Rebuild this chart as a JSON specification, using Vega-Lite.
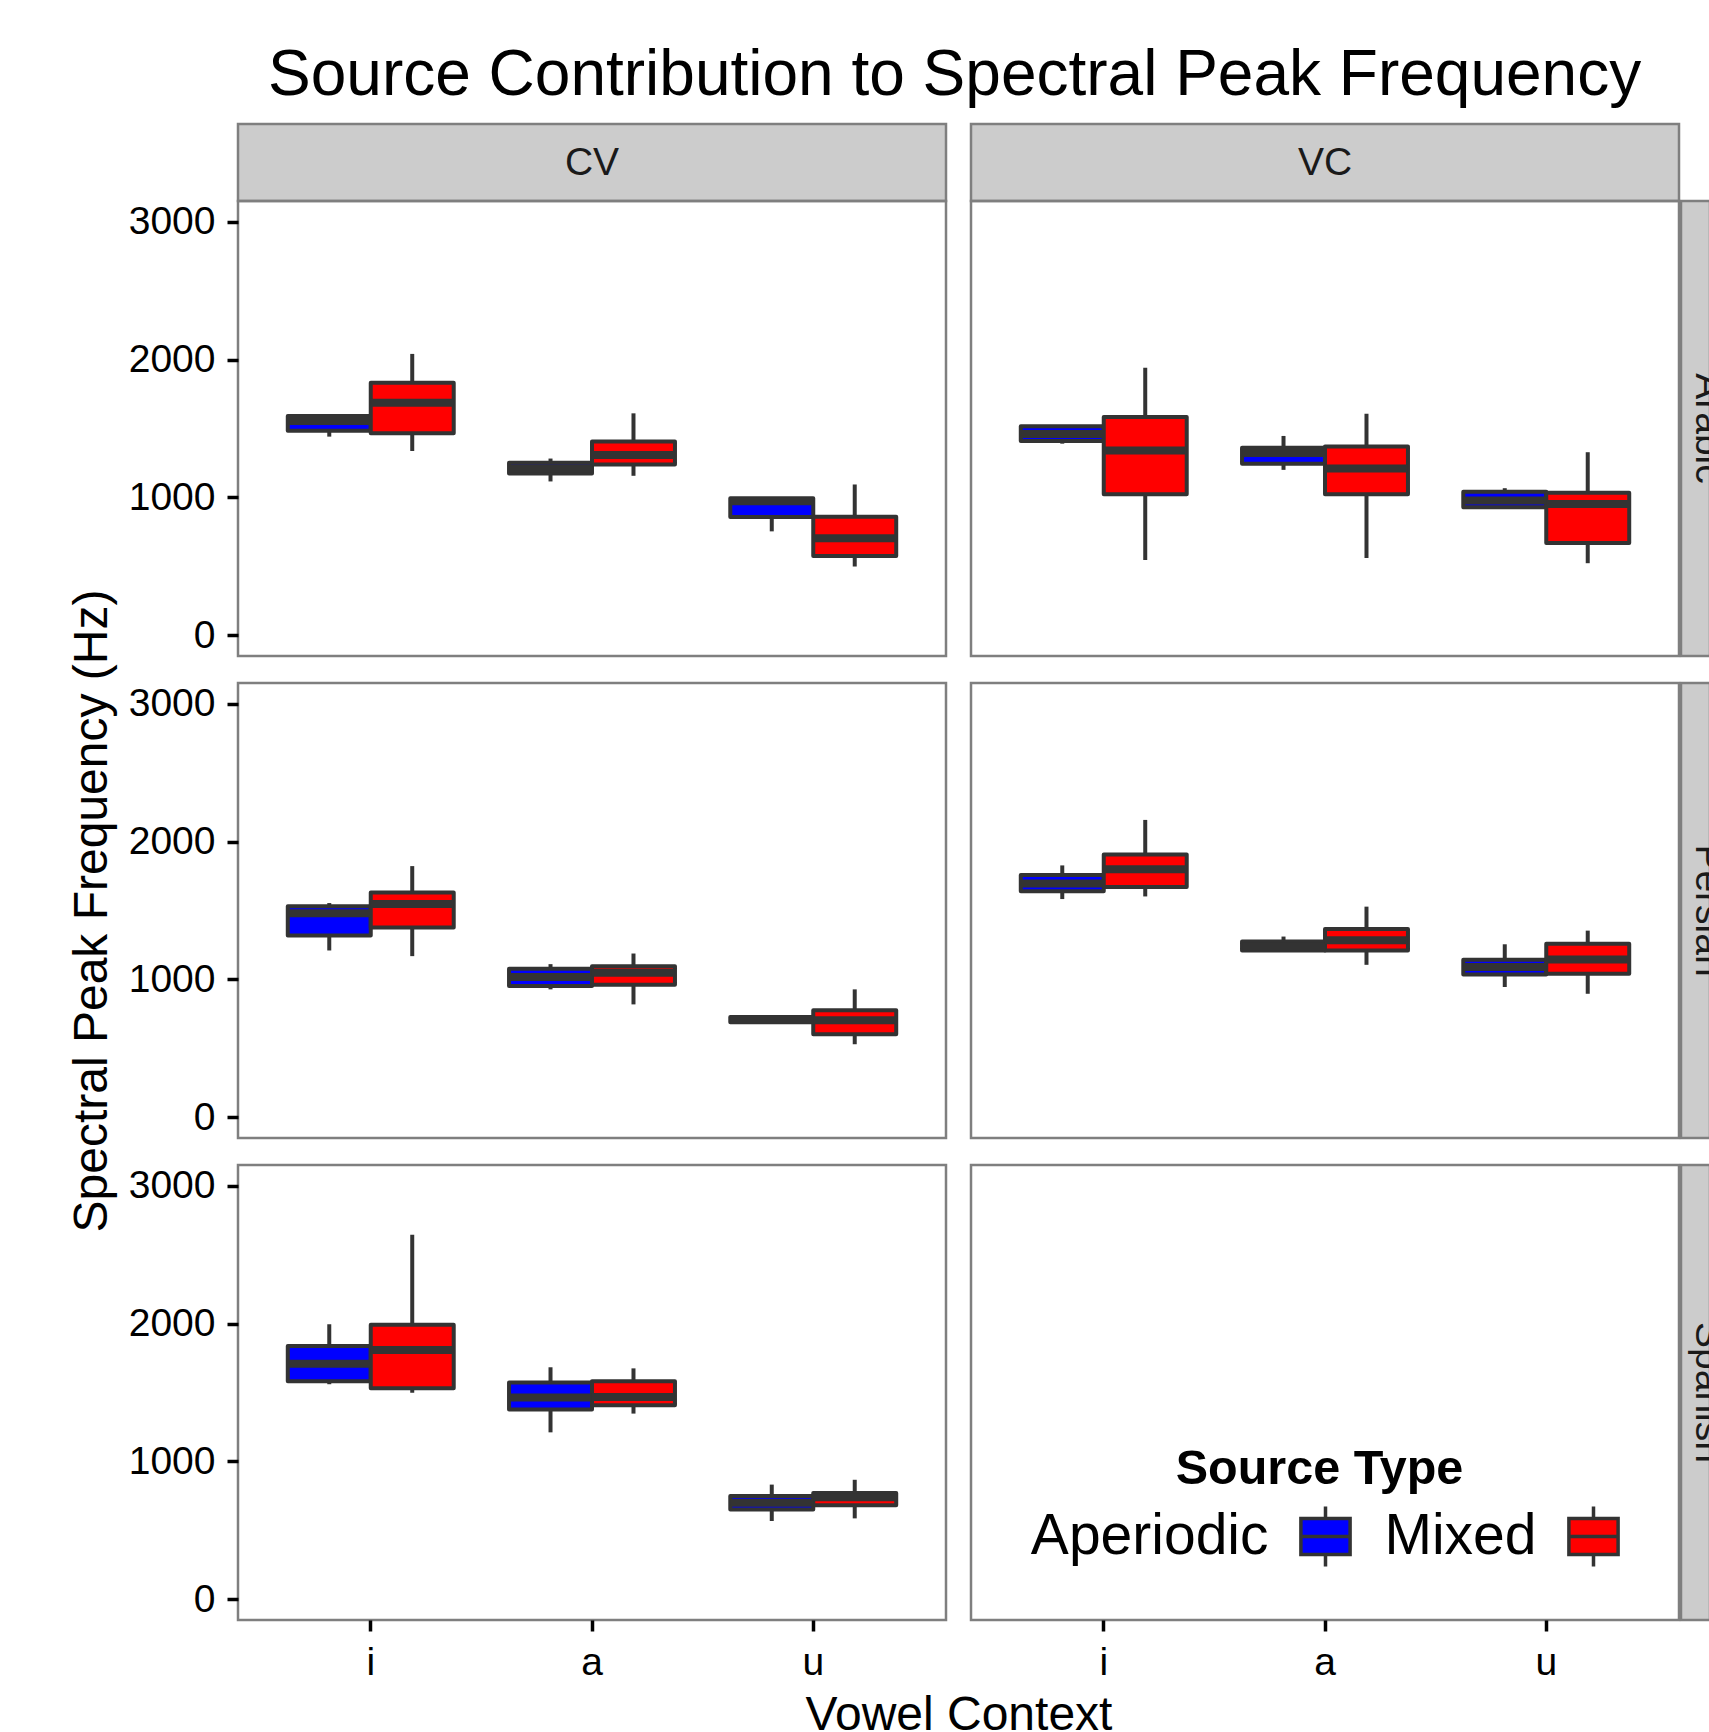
{
"$schema": "https://vega.github.io/schema/vega-lite/v6.json",
"background": "white",
"padding": {"left": 66, "top": 43, "right": 0, "bottom": 0},
"title": {"text": "Source Contribution to Spectral Peak Frequency", "anchor": "start", "frame": "group", "dx": 30, "offset": -36, "baseline": "alphabetic", "fontSize": 64, "fontWeight": "normal", "font": "Liberation Sans", "color": "#000000"},
"datasets": {
"stats": [
{"lang":"Arabic","ctx":"CV","vowel":"i","src":"Aperiodic","lo":1441,"q1":1484,"med":1554,"q3":1590,"hi":1598},
{"lang":"Arabic","ctx":"CV","vowel":"i","src":"Mixed","lo":1337,"q1":1465,"med":1687,"q3":1831,"hi":2041},
{"lang":"Arabic","ctx":"CV","vowel":"a","src":"Aperiodic","lo":1116,"q1":1173,"med":1210,"q3":1251,"hi":1282},
{"lang":"Arabic","ctx":"CV","vowel":"a","src":"Mixed","lo":1157,"q1":1239,"med":1308,"q3":1405,"hi":1610},
{"lang":"Arabic","ctx":"CV","vowel":"u","src":"Aperiodic","lo":754,"q1":858,"med":973,"q3":995,"hi":995},
{"lang":"Arabic","ctx":"CV","vowel":"u","src":"Mixed","lo":499,"q1":576,"med":704,"q3":860,"hi":1094},
{"lang":"Arabic","ctx":"VC","vowel":"i","src":"Aperiodic","lo":1390,"q1":1410,"med":1460,"q3":1516,"hi":1516},
{"lang":"Arabic","ctx":"VC","vowel":"i","src":"Mixed","lo":547,"q1":1024,"med":1340,"q3":1583,"hi":1940},
{"lang":"Arabic","ctx":"VC","vowel":"a","src":"Aperiodic","lo":1200,"q1":1245,"med":1323,"q3":1361,"hi":1446},
{"lang":"Arabic","ctx":"VC","vowel":"a","src":"Mixed","lo":561,"q1":1024,"med":1210,"q3":1369,"hi":1607},
{"lang":"Arabic","ctx":"VC","vowel":"u","src":"Aperiodic","lo":928,"q1":928,"med":978,"q3":1041,"hi":1067},
{"lang":"Arabic","ctx":"VC","vowel":"u","src":"Mixed","lo":523,"q1":670,"med":952,"q3":1034,"hi":1328},
{"lang":"Persian","ctx":"CV","vowel":"i","src":"Aperiodic","lo":1210,"q1":1318,"med":1480,"q3":1530,"hi":1554},
{"lang":"Persian","ctx":"CV","vowel":"i","src":"Mixed","lo":1169,"q1":1376,"med":1547,"q3":1631,"hi":1822},
{"lang":"Persian","ctx":"CV","vowel":"a","src":"Aperiodic","lo":928,"q1":952,"med":1017,"q3":1077,"hi":1111},
{"lang":"Persian","ctx":"CV","vowel":"a","src":"Mixed","lo":819,"q1":961,"med":1048,"q3":1096,"hi":1188},
{"lang":"Persian","ctx":"CV","vowel":"u","src":"Aperiodic","lo":689,"q1":689,"med":708,"q3":728,"hi":728},
{"lang":"Persian","ctx":"CV","vowel":"u","src":"Mixed","lo":530,"q1":602,"med":704,"q3":776,"hi":928},
{"lang":"Persian","ctx":"VC","vowel":"i","src":"Aperiodic","lo":1583,"q1":1639,"med":1696,"q3":1757,"hi":1827},
{"lang":"Persian","ctx":"VC","vowel":"i","src":"Mixed","lo":1602,"q1":1670,"med":1800,"q3":1906,"hi":2157},
{"lang":"Persian","ctx":"VC","vowel":"a","src":"Aperiodic","lo":1202,"q1":1210,"med":1240,"q3":1275,"hi":1311},
{"lang":"Persian","ctx":"VC","vowel":"a","src":"Mixed","lo":1106,"q1":1210,"med":1284,"q3":1366,"hi":1528},
{"lang":"Persian","ctx":"VC","vowel":"u","src":"Aperiodic","lo":945,"q1":1036,"med":1090,"q3":1142,"hi":1255},
{"lang":"Persian","ctx":"VC","vowel":"u","src":"Mixed","lo":896,"q1":1041,"med":1145,"q3":1258,"hi":1354},
{"lang":"Spanish","ctx":"CV","vowel":"i","src":"Aperiodic","lo":1560,"q1":1581,"med":1709,"q3":1837,"hi":1995},
{"lang":"Spanish","ctx":"CV","vowel":"i","src":"Mixed","lo":1499,"q1":1531,"med":1808,"q3":1992,"hi":2645},
{"lang":"Spanish","ctx":"CV","vowel":"a","src":"Aperiodic","lo":1211,"q1":1376,"med":1464,"q3":1573,"hi":1683},
{"lang":"Spanish","ctx":"CV","vowel":"a","src":"Mixed","lo":1347,"q1":1408,"med":1467,"q3":1581,"hi":1675},
{"lang":"Spanish","ctx":"CV","vowel":"u","src":"Aperiodic","lo":568,"q1":651,"med":700,"q3":749,"hi":832},
{"lang":"Spanish","ctx":"CV","vowel":"u","src":"Mixed","lo":587,"q1":683,"med":741,"q3":771,"hi":867}
]
},
"columns": 5,
"spacing": 0,
"bounds": "flush",
"concat": [
{"width":708,"height":77,"view":{"fill":"#cccccc","stroke":"#7f7f7f","strokeWidth":2.5},"data":{"values":[{"t":"CV"}]},"mark":{"type":"text","fontSize":39,"color":"#1a1a1a","baseline":"middle","align":"center"},"encoding":{"text":{"field":"t"}}},
{"width":25,"height":1,"data":{"values":[]},"mark":"point"},
{"width":708,"height":77,"view":{"fill":"#cccccc","stroke":"#7f7f7f","strokeWidth":2.5},"data":{"values":[{"t":"VC"}]},"mark":{"type":"text","fontSize":39,"color":"#1a1a1a","baseline":"middle","align":"center"},"encoding":{"text":{"field":"t"}}},
{"width":2,"height":1,"data":{"values":[]},"mark":"point"},
{"width":1,"height":1,"data":{"values":[]},"mark":"point"},

{"width":708,"height":455,"view":{"stroke":"#7f7f7f","strokeWidth":2.5},"data":{"name":"stats"},"transform":[{"filter":"datum.lang==='Arabic' && datum.ctx==='CV'"}],
 "encoding":{"x":{"field":"vowel","type":"nominal","scale":{"domain":["i","a","u"],"paddingInner":0.25,"paddingOuter":0.225},"axis":null},"xOffset":{"field":"src","type":"nominal","scale":{"domain":["Aperiodic","Mixed"],"paddingInner":0,"paddingOuter":0}}},
 "layer":[
  {"mark":{"type":"rule","stroke":"#333333","strokeWidth":4},"encoding":{"y":{"field":"lo","type":"quantitative","scale":{"domain":[-150,3150],"nice":false,"zero":false},"axis":{"values":[0,1000,2000,3000],"format":"d","title":null}},"y2":{"field":"hi"}}},
  {"mark":{"type":"bar","stroke":"#333333","strokeWidth":4,"strokeJoin":"round"},"encoding":{"y":{"field":"q1","type":"quantitative","scale":{"domain":[-150,3150],"nice":false,"zero":false},"axis":{"values":[0,1000,2000,3000],"format":"d","title":null}},"y2":{"field":"q3"},
   "fill":{"field":"src","type":"nominal","scale":{"domain":["Aperiodic","Mixed"],"range":["#0000ff","#ff0000"]},"legend":{"title":"Source Type","orient":"none","legendX":937.5,"legendY":1322,"direction":"horizontal","columns":2,"padding":0,"titleFont":"Liberation Sans","titleFontSize":48.5,"titleFontWeight":"bold","titleColor":"#000000","titleAnchor":"start","titleAlign":"center","titleLimit":1000,"titlePadding":10,"labelFont":"Liberation Sans","labelFontSize":57,"labelColor":"#000000","labelAlign":"right","labelOffset":-89,"symbolOffset":-26,"labelLimit":500,"symbolType":"M-0.82,-0.6H0.82V0.6H-0.82Z M0,-1V-0.6 M0,0.6V1 M-0.82,0H0.82","symbolSize":3600,"symbolStrokeColor":"#333333","symbolStrokeWidth":3.5,"symbolOpacity":1,"columnPadding":26}}}},
  {"mark":{"type":"tick","color":"#333333","opacity":1,"thickness":8,"size":83},"encoding":{"y":{"field":"med","type":"quantitative","scale":{"domain":[-150,3150],"nice":false,"zero":false},"axis":{"values":[0,1000,2000,3000],"format":"d","title":null}}}}
 ]},
{"width":25,"height":1,"data":{"values":[]},"mark":"point"},
{"width":708,"height":455,"view":{"stroke":"#7f7f7f","strokeWidth":2.5},"data":{"name":"stats"},"transform":[{"filter":"datum.lang==='Arabic' && datum.ctx==='VC'"}],
 "encoding":{"x":{"field":"vowel","type":"nominal","scale":{"domain":["i","a","u"],"paddingInner":0.25,"paddingOuter":0.225},"axis":null},"xOffset":{"field":"src","type":"nominal","scale":{"domain":["Aperiodic","Mixed"],"paddingInner":0,"paddingOuter":0}}},
 "layer":[
  {"mark":{"type":"rule","stroke":"#333333","strokeWidth":4},"encoding":{"y":{"field":"lo","type":"quantitative","scale":{"domain":[-150,3150],"nice":false,"zero":false},"axis":null},"y2":{"field":"hi"}}},
  {"mark":{"type":"bar","stroke":"#333333","strokeWidth":4,"strokeJoin":"round"},"encoding":{"y":{"field":"q1","type":"quantitative","scale":{"domain":[-150,3150],"nice":false,"zero":false},"axis":null},"y2":{"field":"q3"},
   "fill":{"field":"src","type":"nominal","scale":{"domain":["Aperiodic","Mixed"],"range":["#0000ff","#ff0000"]},"legend":{"title":"Source Type","orient":"none","legendX":937.5,"legendY":1322,"direction":"horizontal","columns":2,"padding":0,"titleFont":"Liberation Sans","titleFontSize":48.5,"titleFontWeight":"bold","titleColor":"#000000","titleAnchor":"start","titleAlign":"center","titleLimit":1000,"titlePadding":10,"labelFont":"Liberation Sans","labelFontSize":57,"labelColor":"#000000","labelAlign":"right","labelOffset":-89,"symbolOffset":-26,"labelLimit":500,"symbolType":"M-0.82,-0.6H0.82V0.6H-0.82Z M0,-1V-0.6 M0,0.6V1 M-0.82,0H0.82","symbolSize":3600,"symbolStrokeColor":"#333333","symbolStrokeWidth":3.5,"symbolOpacity":1,"columnPadding":26}}}},
  {"mark":{"type":"tick","color":"#333333","opacity":1,"thickness":8,"size":83},"encoding":{"y":{"field":"med","type":"quantitative","scale":{"domain":[-150,3150],"nice":false,"zero":false},"axis":null}}}
 ]},
{"width":2,"height":1,"data":{"values":[]},"mark":"point"},
{"width":29,"height":455,"view":{"fill":"#cccccc","stroke":"#7f7f7f","strokeWidth":2.5},"data":{"values":[{"t":"Arabic"}]},"mark":{"type":"text","fontSize":39,"color":"#1a1a1a","baseline":"middle","align":"center","angle":90,"dy":-12,"clip":true},"encoding":{"text":{"field":"t"}}},

{"width":1,"height":27,"data":{"values":[]},"mark":"point"},
{"width":1,"height":1,"data":{"values":[]},"mark":"point"},
{"width":1,"height":1,"data":{"values":[]},"mark":"point"},
{"width":1,"height":1,"data":{"values":[]},"mark":"point"},
{"width":1,"height":1,"data":{"values":[]},"mark":"point"},

{"width":708,"height":455,"view":{"stroke":"#7f7f7f","strokeWidth":2.5},"data":{"name":"stats"},"transform":[{"filter":"datum.lang==='Persian' && datum.ctx==='CV'"}],
 "encoding":{"x":{"field":"vowel","type":"nominal","scale":{"domain":["i","a","u"],"paddingInner":0.25,"paddingOuter":0.225},"axis":null},"xOffset":{"field":"src","type":"nominal","scale":{"domain":["Aperiodic","Mixed"],"paddingInner":0,"paddingOuter":0}}},
 "layer":[
  {"mark":{"type":"rule","stroke":"#333333","strokeWidth":4},"encoding":{"y":{"field":"lo","type":"quantitative","scale":{"domain":[-150,3150],"nice":false,"zero":false},"axis":{"values":[0,1000,2000,3000],"format":"d","title":"Spectral Peak Frequency (Hz)"}},"y2":{"field":"hi"}}},
  {"mark":{"type":"bar","stroke":"#333333","strokeWidth":4,"strokeJoin":"round"},"encoding":{"y":{"field":"q1","type":"quantitative","scale":{"domain":[-150,3150],"nice":false,"zero":false},"axis":{"values":[0,1000,2000,3000],"format":"d","title":"Spectral Peak Frequency (Hz)"}},"y2":{"field":"q3"},
   "fill":{"field":"src","type":"nominal","scale":{"domain":["Aperiodic","Mixed"],"range":["#0000ff","#ff0000"]},"legend":{"title":"Source Type","orient":"none","legendX":937.5,"legendY":1322,"direction":"horizontal","columns":2,"padding":0,"titleFont":"Liberation Sans","titleFontSize":48.5,"titleFontWeight":"bold","titleColor":"#000000","titleAnchor":"start","titleAlign":"center","titleLimit":1000,"titlePadding":10,"labelFont":"Liberation Sans","labelFontSize":57,"labelColor":"#000000","labelAlign":"right","labelOffset":-89,"symbolOffset":-26,"labelLimit":500,"symbolType":"M-0.82,-0.6H0.82V0.6H-0.82Z M0,-1V-0.6 M0,0.6V1 M-0.82,0H0.82","symbolSize":3600,"symbolStrokeColor":"#333333","symbolStrokeWidth":3.5,"symbolOpacity":1,"columnPadding":26}}}},
  {"mark":{"type":"tick","color":"#333333","opacity":1,"thickness":8,"size":83},"encoding":{"y":{"field":"med","type":"quantitative","scale":{"domain":[-150,3150],"nice":false,"zero":false},"axis":{"values":[0,1000,2000,3000],"format":"d","title":"Spectral Peak Frequency (Hz)"}}}}
 ]},
{"width":25,"height":1,"data":{"values":[]},"mark":"point"},
{"width":708,"height":455,"view":{"stroke":"#7f7f7f","strokeWidth":2.5},"data":{"name":"stats"},"transform":[{"filter":"datum.lang==='Persian' && datum.ctx==='VC'"}],
 "encoding":{"x":{"field":"vowel","type":"nominal","scale":{"domain":["i","a","u"],"paddingInner":0.25,"paddingOuter":0.225},"axis":null},"xOffset":{"field":"src","type":"nominal","scale":{"domain":["Aperiodic","Mixed"],"paddingInner":0,"paddingOuter":0}}},
 "layer":[
  {"mark":{"type":"rule","stroke":"#333333","strokeWidth":4},"encoding":{"y":{"field":"lo","type":"quantitative","scale":{"domain":[-150,3150],"nice":false,"zero":false},"axis":null},"y2":{"field":"hi"}}},
  {"mark":{"type":"bar","stroke":"#333333","strokeWidth":4,"strokeJoin":"round"},"encoding":{"y":{"field":"q1","type":"quantitative","scale":{"domain":[-150,3150],"nice":false,"zero":false},"axis":null},"y2":{"field":"q3"},
   "fill":{"field":"src","type":"nominal","scale":{"domain":["Aperiodic","Mixed"],"range":["#0000ff","#ff0000"]},"legend":{"title":"Source Type","orient":"none","legendX":937.5,"legendY":1322,"direction":"horizontal","columns":2,"padding":0,"titleFont":"Liberation Sans","titleFontSize":48.5,"titleFontWeight":"bold","titleColor":"#000000","titleAnchor":"start","titleAlign":"center","titleLimit":1000,"titlePadding":10,"labelFont":"Liberation Sans","labelFontSize":57,"labelColor":"#000000","labelAlign":"right","labelOffset":-89,"symbolOffset":-26,"labelLimit":500,"symbolType":"M-0.82,-0.6H0.82V0.6H-0.82Z M0,-1V-0.6 M0,0.6V1 M-0.82,0H0.82","symbolSize":3600,"symbolStrokeColor":"#333333","symbolStrokeWidth":3.5,"symbolOpacity":1,"columnPadding":26}}}},
  {"mark":{"type":"tick","color":"#333333","opacity":1,"thickness":8,"size":83},"encoding":{"y":{"field":"med","type":"quantitative","scale":{"domain":[-150,3150],"nice":false,"zero":false},"axis":null}}}
 ]},
{"width":2,"height":1,"data":{"values":[]},"mark":"point"},
{"width":29,"height":455,"view":{"fill":"#cccccc","stroke":"#7f7f7f","strokeWidth":2.5},"data":{"values":[{"t":"Persian"}]},"mark":{"type":"text","fontSize":39,"color":"#1a1a1a","baseline":"middle","align":"center","angle":90,"dy":-12,"clip":true},"encoding":{"text":{"field":"t"}}},

{"width":1,"height":27,"data":{"values":[]},"mark":"point"},
{"width":1,"height":1,"data":{"values":[]},"mark":"point"},
{"width":1,"height":1,"data":{"values":[]},"mark":"point"},
{"width":1,"height":1,"data":{"values":[]},"mark":"point"},
{"width":1,"height":1,"data":{"values":[]},"mark":"point"},

{"width":708,"height":455,"view":{"stroke":"#7f7f7f","strokeWidth":2.5},"data":{"name":"stats"},"transform":[{"filter":"datum.lang==='Spanish' && datum.ctx==='CV'"}],
 "encoding":{"x":{"field":"vowel","type":"nominal","scale":{"domain":["i","a","u"],"paddingInner":0.25,"paddingOuter":0.225},"axis":{"title":"Vowel Context","titleX":720.5,"labelAngle":0}},"xOffset":{"field":"src","type":"nominal","scale":{"domain":["Aperiodic","Mixed"],"paddingInner":0,"paddingOuter":0}}},
 "layer":[
  {"mark":{"type":"rule","stroke":"#333333","strokeWidth":4},"encoding":{"y":{"field":"lo","type":"quantitative","scale":{"domain":[-150,3150],"nice":false,"zero":false},"axis":{"values":[0,1000,2000,3000],"format":"d","title":null}},"y2":{"field":"hi"}}},
  {"mark":{"type":"bar","stroke":"#333333","strokeWidth":4,"strokeJoin":"round"},"encoding":{"y":{"field":"q1","type":"quantitative","scale":{"domain":[-150,3150],"nice":false,"zero":false},"axis":{"values":[0,1000,2000,3000],"format":"d","title":null}},"y2":{"field":"q3"},
   "fill":{"field":"src","type":"nominal","scale":{"domain":["Aperiodic","Mixed"],"range":["#0000ff","#ff0000"]},"legend":{"title":"Source Type","orient":"none","legendX":937.5,"legendY":1322,"direction":"horizontal","columns":2,"padding":0,"titleFont":"Liberation Sans","titleFontSize":48.5,"titleFontWeight":"bold","titleColor":"#000000","titleAnchor":"start","titleAlign":"center","titleLimit":1000,"titlePadding":10,"labelFont":"Liberation Sans","labelFontSize":57,"labelColor":"#000000","labelAlign":"right","labelOffset":-89,"symbolOffset":-26,"labelLimit":500,"symbolType":"M-0.82,-0.6H0.82V0.6H-0.82Z M0,-1V-0.6 M0,0.6V1 M-0.82,0H0.82","symbolSize":3600,"symbolStrokeColor":"#333333","symbolStrokeWidth":3.5,"symbolOpacity":1,"columnPadding":26}}}},
  {"mark":{"type":"tick","color":"#333333","opacity":1,"thickness":8,"size":83},"encoding":{"y":{"field":"med","type":"quantitative","scale":{"domain":[-150,3150],"nice":false,"zero":false},"axis":{"values":[0,1000,2000,3000],"format":"d","title":null}}}}
 ]},
{"width":25,"height":1,"data":{"values":[]},"mark":"point"},
{"width":708,"height":455,"view":{"stroke":"#7f7f7f","strokeWidth":2.5},"data":{"name":"stats"},"transform":[{"filter":"datum.lang==='Spanish' && datum.ctx==='VC'"}],
 "encoding":{"x":{"field":"vowel","type":"nominal","scale":{"domain":["i","a","u"],"paddingInner":0.25,"paddingOuter":0.225},"axis":{"title":null,"labelAngle":0}},"xOffset":{"field":"src","type":"nominal","scale":{"domain":["Aperiodic","Mixed"],"paddingInner":0,"paddingOuter":0}}},
 "layer":[
  {"mark":{"type":"rule","stroke":"#333333","strokeWidth":4},"encoding":{"y":{"field":"lo","type":"quantitative","scale":{"domain":[-150,3150],"nice":false,"zero":false},"axis":null},"y2":{"field":"hi"}}},
  {"mark":{"type":"bar","stroke":"#333333","strokeWidth":4,"strokeJoin":"round"},"encoding":{"y":{"field":"q1","type":"quantitative","scale":{"domain":[-150,3150],"nice":false,"zero":false},"axis":null},"y2":{"field":"q3"},
   "fill":{"field":"src","type":"nominal","scale":{"domain":["Aperiodic","Mixed"],"range":["#0000ff","#ff0000"]},"legend":{"title":"Source Type","orient":"none","legendX":937.5,"legendY":1322,"direction":"horizontal","columns":2,"padding":0,"titleFont":"Liberation Sans","titleFontSize":48.5,"titleFontWeight":"bold","titleColor":"#000000","titleAnchor":"start","titleAlign":"center","titleLimit":1000,"titlePadding":10,"labelFont":"Liberation Sans","labelFontSize":57,"labelColor":"#000000","labelAlign":"right","labelOffset":-89,"symbolOffset":-26,"labelLimit":500,"symbolType":"M-0.82,-0.6H0.82V0.6H-0.82Z M0,-1V-0.6 M0,0.6V1 M-0.82,0H0.82","symbolSize":3600,"symbolStrokeColor":"#333333","symbolStrokeWidth":3.5,"symbolOpacity":1,"columnPadding":26}}}},
  {"mark":{"type":"tick","color":"#333333","opacity":1,"thickness":8,"size":83},"encoding":{"y":{"field":"med","type":"quantitative","scale":{"domain":[-150,3150],"nice":false,"zero":false},"axis":null}}}
 ]},
{"width":2,"height":1,"data":{"values":[]},"mark":"point"},
{"width":29,"height":455,"view":{"fill":"#cccccc","stroke":"#7f7f7f","strokeWidth":2.5},"data":{"values":[{"t":"Spanish"}]},"mark":{"type":"text","fontSize":39,"color":"#1a1a1a","baseline":"middle","align":"center","angle":90,"dy":-12,"clip":true},"encoding":{"text":{"field":"t"}}}
],
"config": {
 "font": "Liberation Sans",
 "view": {"stroke": null},
 "axis": {"labelFont": "Liberation Sans", "labelFontSize": 39, "labelColor": "#000000", "tickColor": "#000000", "tickWidth": 3.5, "tickSize": 11, "domain": false, "grid": false, "titleFont": "Liberation Sans", "titleFontSize": 48, "titleFontWeight": "normal", "titleColor": "#000000", "labelPadding": 12},
 "axisY": {"titlePadding": 12},
 "axisX": {"titlePadding": 9}
}
}
